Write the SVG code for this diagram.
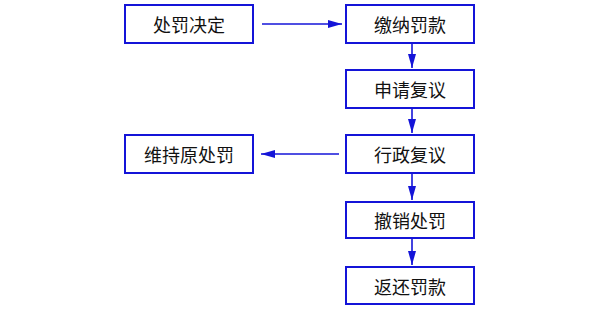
<svg xmlns="http://www.w3.org/2000/svg" width="600" height="320" viewBox="0 0 600 320">
<style>
.box{fill:#fff;stroke:#1414d8;stroke-width:2}
.t{font-family:"Noto Sans CJK SC",sans-serif;font-size:18px;fill:#111;text-anchor:middle;dominant-baseline:central}
.c{stroke:#1414d8;stroke-width:1.6;fill:none}
</style>
<defs>
<marker id="ah" viewBox="0 0 14 8" refX="14" refY="4" markerWidth="14" markerHeight="8" markerUnits="userSpaceOnUse" orient="auto">
<path d="M0,0 L14,4 L0,8 Z" fill="#1414d8"/>
</marker>
</defs>
<rect width="600" height="320" fill="#fff"/>
<g id="connectors">
<line class="c" x1="262" y1="24" x2="342" y2="24" marker-end="url(#ah)"/>
<line class="c" x1="412" y1="43" x2="412" y2="68" marker-end="url(#ah)"/>
<line class="c" x1="412" y1="108" x2="412" y2="133" marker-end="url(#ah)"/>
<line class="c" x1="339" y1="154" x2="261" y2="154" marker-end="url(#ah)"/>
<line class="c" x1="412" y1="173" x2="412" y2="200" marker-end="url(#ah)"/>
<line class="c" x1="412" y1="238" x2="412" y2="265" marker-end="url(#ah)"/>
</g>
<g id="n1"><rect class="box" x="125" y="5" width="128" height="38"/><text class="t" x="189" y="24">处罚决定</text></g>
<g id="n2"><rect class="box" x="346" y="5" width="128" height="38"/><text class="t" x="410" y="24">缴纳罚款</text></g>
<g id="n3"><rect class="box" x="346" y="70" width="128" height="38"/><text class="t" x="410" y="89">申请复议</text></g>
<g id="n4"><rect class="box" x="346" y="135" width="128" height="38"/><text class="t" x="410" y="154">行政复议</text></g>
<g id="n5"><rect class="box" x="125" y="135" width="128" height="38"/><text class="t" x="189" y="154">维持原处罚</text></g>
<g id="n6"><rect class="box" x="346" y="202" width="128" height="36"/><text class="t" x="410" y="220">撤销处罚</text></g>
<g id="n7"><rect class="box" x="346" y="267" width="128" height="37"/><text class="t" x="410" y="285.5">返还罚款</text></g>
</svg>
